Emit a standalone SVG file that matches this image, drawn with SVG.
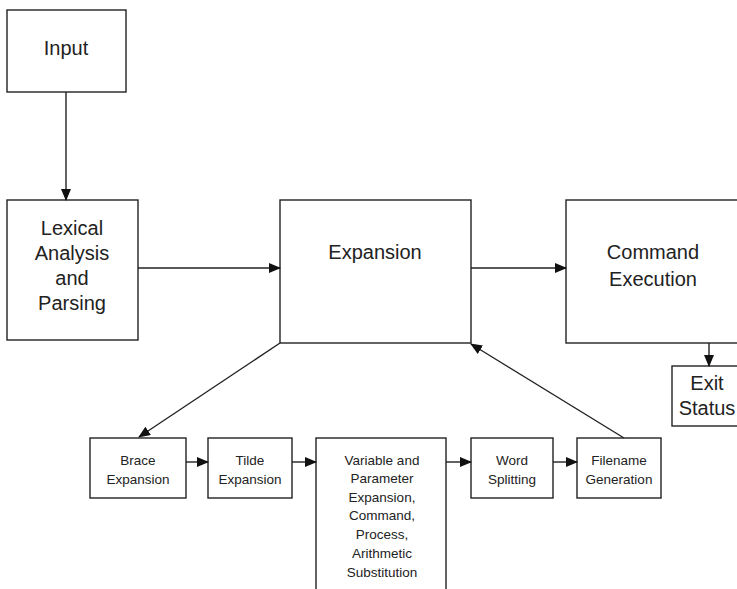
<svg xmlns="http://www.w3.org/2000/svg" width="737" height="589" viewBox="0 0 737 589">
<style>
.box{fill:#fff;stroke:#222;stroke-width:1.4}
.big{font-family:"Liberation Sans",Arial,sans-serif;font-size:20px;fill:#222;text-anchor:middle}
.sm{font-family:"Liberation Sans",Arial,sans-serif;font-size:13.5px;fill:#222;text-anchor:middle}
.ln{stroke:#222;stroke-width:1.4;fill:none;marker-end:url(#ah)}
</style>
<defs>
<marker id="ah" markerWidth="12" markerHeight="10" refX="11" refY="5" orient="auto" markerUnits="userSpaceOnUse">
<path d="M0,0 L12,5 L0,10 z" fill="#111"/>
</marker>
</defs>
<rect width="737" height="589" fill="#fff"/>
<g id="input"><rect class="box" x="7" y="10" width="119" height="82"/><text class="big" x="66" y="55">Input</text></g>
<g id="lexical"><rect class="box" x="7" y="200" width="131" height="140"/>
<text class="big" x="72" y="235">Lexical</text><text class="big" x="72" y="260">Analysis</text><text class="big" x="72" y="285">and</text><text class="big" x="72" y="310">Parsing</text></g>
<g id="expansion"><rect class="box" x="280" y="200" width="191" height="143"/><text class="big" x="375" y="259">Expansion</text></g>
<g id="command"><rect class="box" x="566" y="200" width="180" height="143"/><text class="big" x="653" y="259">Command</text><text class="big" x="653" y="286">Execution</text></g>
<g id="exit"><rect class="box" x="672" y="366" width="80" height="60"/><text class="big" x="707" y="390">Exit</text><text class="big" x="707" y="415">Status</text></g>
<g id="brace"><rect class="box" x="90" y="438" width="96" height="60"/><text class="sm" x="138" y="465">Brace</text><text class="sm" x="138" y="484">Expansion</text></g>
<g id="tilde"><rect class="box" x="208" y="438" width="84" height="60"/><text class="sm" x="250" y="465">Tilde</text><text class="sm" x="250" y="484">Expansion</text></g>
<g id="variable"><rect class="box" x="316" y="438" width="130" height="170"/>
<text class="sm" x="382" y="465">Variable and</text><text class="sm" x="382" y="483">Parameter</text><text class="sm" x="382" y="502">Expansion,</text><text class="sm" x="382" y="520">Command,</text><text class="sm" x="382" y="539">Process,</text><text class="sm" x="382" y="558">Arithmetic</text><text class="sm" x="382" y="577">Substitution</text></g>
<g id="word"><rect class="box" x="471" y="438" width="82" height="60"/><text class="sm" x="512" y="465">Word</text><text class="sm" x="512" y="484">Splitting</text></g>
<g id="filename"><rect class="box" x="577" y="438" width="84" height="60"/><text class="sm" x="619" y="465">Filename</text><text class="sm" x="619" y="484">Generation</text></g>
<g id="connectors">
<line class="ln" x1="66" y1="92" x2="66" y2="200"/>
<line class="ln" x1="138" y1="268" x2="280" y2="268"/>
<line class="ln" x1="471" y1="268" x2="566" y2="268"/>
<line class="ln" x1="709" y1="343" x2="709" y2="366"/>
<line class="ln" x1="280" y1="343" x2="139" y2="437"/>
<line class="ln" x1="624" y1="438" x2="471" y2="344"/>
<line class="ln" x1="186" y1="462" x2="208" y2="462"/>
<line class="ln" x1="292" y1="462" x2="316" y2="462"/>
<line class="ln" x1="446" y1="462" x2="471" y2="462"/>
<line class="ln" x1="553" y1="462" x2="577" y2="462"/>
</g>
</svg>
